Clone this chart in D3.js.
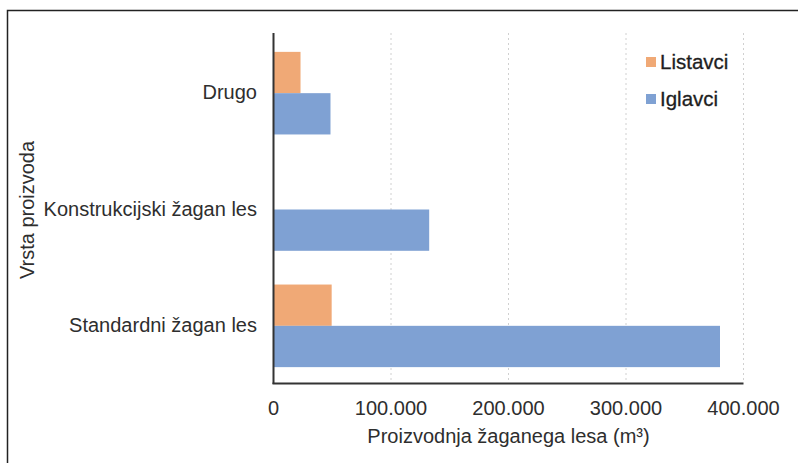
<!DOCTYPE html>
<html>
<head>
<meta charset="utf-8">
<script src="https://cdn.jsdelivr.net/npm/d3@7"></script>
<style>
  html, body { margin: 0; padding: 0; background: #fff; }
  svg { display: block; font-family: "Liberation Sans", Arial, Helvetica, sans-serif; }
</style>
</head>
<body>
<svg id="chart" width="798" height="463"></svg>
<script>
const categories = ["Drugo", "Konstrukcijski žagan les", "Standardni žagan les"];
const seriesNames = ["Listavci", "Iglavci"];
const listavci = [23000, 0, 49500];
const iglavci = [48500, 132500, 380000];
const xTicks = [0, 100000, 200000, 300000, 400000];
const colors = ["#f0a976", "#7fa1d3"];
const xTitle = "Proizvodnja žaganega lesa (m³)";
const yTitle = "Vrsta proizvoda";

const seriesValues = [listavci, iglavci];
const svg = d3.select("#chart");
const textColor = "#2e2e2e";
const fs = 20;

// outer frame (partially cropped)
svg.append("rect")
  .attr("x", 7.5).attr("y", 10.5)
  .attr("width", 900).attr("height", 600)
  .attr("fill", "none").attr("stroke", "#222").attr("stroke-width", 1.5);

const x = d3.scaleLinear().domain([0, 400000]).range([273.5, 743.5]);
const y = d3.scaleBand().domain(categories).range([35, 384]).paddingInner(0.29).paddingOuter(0.145);
const ySub = d3.scaleBand().domain(seriesNames).range([0, y.bandwidth()]);

const fmt = d3.formatLocale({decimal: ",", thousands: ".", grouping: [3], currency: ["", ""]}).format(",");

// gridlines
svg.append("g").selectAll("line")
  .data(xTicks.filter(d => d > 0))
  .join("line")
  .attr("x1", d => x(d)).attr("x2", d => x(d))
  .attr("y1", 33).attr("y2", 383)
  .attr("stroke", "#d0d0d0").attr("stroke-width", 1)
  .attr("stroke-dasharray", "2,3");

// bars
const groups = svg.append("g").selectAll("g")
  .data(categories)
  .join("g")
  .attr("transform", d => `translate(0,${y(d)})`);

groups.selectAll("rect")
  .data((d, i) => seriesNames.map((s, j) => ({s, j, v: seriesValues[j][i]})))
  .join("rect")
  .attr("x", x(0))
  .attr("y", d => ySub(d.s))
  .attr("width", d => x(d.v) - x(0))
  .attr("height", ySub.bandwidth())
  .attr("fill", d => colors[d.j]);

// axes lines
svg.append("line")
  .attr("x1", x(0)).attr("x2", x(0)).attr("y1", 33).attr("y2", 384)
  .attr("stroke", "#333").attr("stroke-width", 2);
svg.append("line")
  .attr("x1", x(0) - 1).attr("x2", x(400000)).attr("y1", 383.5).attr("y2", 383.5)
  .attr("stroke", "#333").attr("stroke-width", 2);

// x tick labels
svg.append("g").selectAll("text")
  .data(xTicks)
  .join("text")
  .attr("x", d => x(d)).attr("y", 415)
  .attr("text-anchor", "middle")
  .attr("font-size", fs).attr("fill", textColor)
  .text(d => fmt(d));

// y category labels
svg.append("g").selectAll("text")
  .data(categories)
  .join("text")
  .attr("x", 257)
  .attr("y", d => y(d) + y.bandwidth() / 2)
  .attr("dy", "0.3em")
  .attr("text-anchor", "end")
  .attr("font-size", fs).attr("fill", textColor)
  .text(d => d);

// axis titles
svg.append("text")
  .attr("x", (x(0) + x(400000)) / 2).attr("y", 443)
  .attr("text-anchor", "middle")
  .attr("font-size", fs).attr("fill", textColor)
  .text(xTitle);

svg.append("text")
  .attr("transform", "translate(34,210) rotate(-90)")
  .attr("text-anchor", "middle")
  .attr("font-size", fs).attr("fill", textColor)
  .text(yTitle);

// legend
const legend = svg.append("g").selectAll("g")
  .data(seriesNames)
  .join("g")
  .attr("transform", (d, i) => `translate(646,${57 + i * 37})`);
legend.append("rect")
  .attr("width", 10).attr("height", 10)
  .attr("fill", (d, i) => colors[i]);
legend.append("text")
  .attr("x", 14).attr("y", 12)
  .attr("font-size", 20.5).attr("fill", "#1e1e1e")
  .attr("stroke", "#1e1e1e").attr("stroke-width", 0.3)
  .text(d => d);
</script>
</body>
</html>
